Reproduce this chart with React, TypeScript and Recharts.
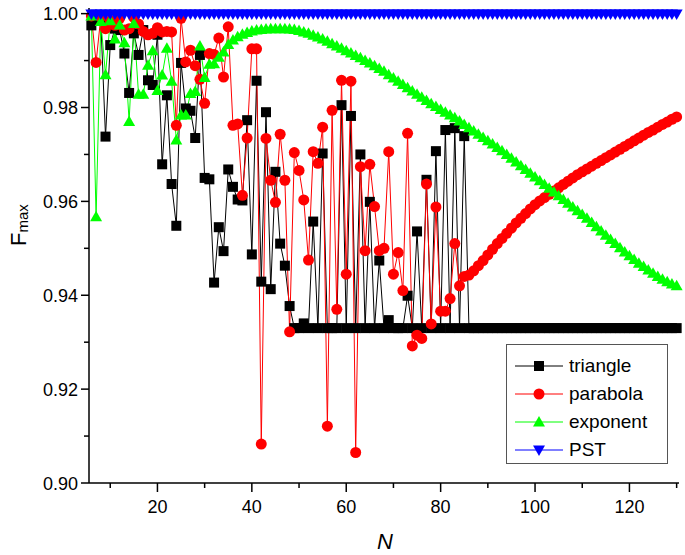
import { LineChart, Line, XAxis, YAxis, Legend } from "recharts";

const FONT = "'Liberation Sans', Arial, sans-serif";

const N = [
  6, 7, 8, 9, 10, 11, 12, 13, 14, 15, 16, 17, 18, 19, 20, 21, 22, 23, 24, 25,
  26, 27, 28, 29, 30, 31, 32, 33, 34, 35, 36, 37, 38, 39, 40, 41, 42, 43, 44, 45,
  46, 47, 48, 49, 50, 51, 52, 53, 54, 55, 56, 57, 58, 59, 60, 61, 62, 63, 64, 65,
  66, 67, 68, 69, 70, 71, 72, 73, 74, 75, 76, 77, 78, 79, 80, 81, 82, 83, 84, 85,
  86, 87, 88, 89, 90, 91, 92, 93, 94, 95, 96, 97, 98, 99, 100, 101, 102, 103, 104, 105,
  106, 107, 108, 109, 110, 111, 112, 113, 114, 115, 116, 117, 118, 119, 120, 121, 122, 123, 124, 125,
  126, 127, 128, 129, 130,
];

const TRIANGLE = [
  0.9975, 0.999, 0.9985, 0.9738, 0.9933, 0.9968, 0.9965, 0.9915, 0.9831, 0.9958,
  0.9912, 0.9965, 0.9858, 0.9848, 0.9955, 0.9679, 0.9826, 0.9637, 0.9548, 0.9895,
  0.9798, 0.9793, 0.9735, 0.9912, 0.965, 0.9647, 0.9427, 0.9545, 0.9494, 0.9668,
  0.9631, 0.9604, 0.9602, 0.9773, 0.9487, 0.9857, 0.9429, 0.979, 0.9413, 0.9663,
  0.951, 0.9463, 0.9377, 0.933, 0.933, 0.934, 0.933, 0.9557, 0.933, 0.9702,
  0.933, 0.933, 0.933, 0.9805, 0.933, 0.9782, 0.933, 0.97, 0.933, 0.9599,
  0.933, 0.9474, 0.933, 0.9347, 0.933, 0.933, 0.933, 0.9399, 0.933, 0.9536,
  0.933, 0.9646, 0.933, 0.9707, 0.933, 0.9752, 0.933, 0.9756, 0.933, 0.9739,
  0.933, 0.933, 0.933, 0.933, 0.933, 0.933, 0.933, 0.933, 0.933, 0.933,
  0.933, 0.933, 0.933, 0.933, 0.933, 0.933, 0.933, 0.933, 0.933, 0.933,
  0.933, 0.933, 0.933, 0.933, 0.933, 0.933, 0.933, 0.933, 0.933, 0.933,
  0.933, 0.933, 0.933, 0.933, 0.933, 0.933, 0.933, 0.933, 0.933, 0.933,
  0.933, 0.933, 0.933, 0.933, 0.933,
];

const PARABOLA = [
  0.9995, 0.9896, 0.9993, 0.9968, 0.9985, 0.9975, 0.999, 0.9965, 0.9968, 0.9992,
  0.9978, 0.9962, 0.9955, 0.9958, 0.997, 0.9961, 0.9962, 0.9961, 0.9762, 0.999,
  0.9897, 0.9922, 0.9889, 0.986, 0.9809, 0.9915, 0.9913, 0.9948, 0.9865, 0.9972,
  0.9762, 0.9765, 0.9613, 0.9735, 0.9925, 0.9925, 0.9083, 0.9734, 0.9645, 0.9598,
  0.9743, 0.9645, 0.9322, 0.9704, 0.9666, 0.9603, 0.9475, 0.9706, 0.9681, 0.9758,
  0.9121, 0.9794, 0.937, 0.9858, 0.9445, 0.9856, 0.9065, 0.9674, 0.9495, 0.9679,
  0.9589, 0.9495, 0.95, 0.9706, 0.9445, 0.9491, 0.941, 0.9745, 0.9292, 0.9315,
  0.9308, 0.9637, 0.9339, 0.9588, 0.9366, 0.9366, 0.9393, 0.951, 0.942, 0.944,
  0.9443, 0.9452, 0.9463, 0.9474, 0.9486, 0.9498, 0.951, 0.9521, 0.9532, 0.9543,
  0.9554, 0.9564, 0.9574, 0.9584, 0.9593, 0.9601, 0.9608, 0.9615, 0.9622, 0.9629,
  0.9636, 0.9643, 0.965, 0.9657, 0.9663, 0.9669, 0.9675, 0.9681, 0.9687, 0.9693,
  0.9699, 0.9705, 0.9711, 0.9717, 0.9723, 0.9729, 0.9735, 0.9741, 0.9747, 0.9752,
  0.9758, 0.9764, 0.9769, 0.9775, 0.978,
];

const EXPONENT = [
  0.9995, 0.9567, 0.9983, 0.987, 0.9985, 0.9946, 0.9976, 0.9938, 0.977, 0.9979,
  0.9828, 0.9828, 0.989, 0.9921, 0.9836, 0.9869, 0.9926, 0.9856, 0.9731, 0.9784,
  0.9784, 0.983, 0.9834, 0.9931, 0.9864, 0.9892, 0.9893, 0.9907, 0.9918, 0.9934,
  0.9944, 0.9951, 0.9956, 0.996, 0.9963, 0.9965, 0.9966, 0.9967, 0.9968, 0.9968,
  0.9968, 0.9968, 0.9967, 0.9966, 0.9964, 0.9961, 0.9958, 0.9954, 0.995, 0.9946,
  0.9941, 0.9936, 0.9931, 0.9926, 0.9921, 0.9916, 0.9911, 0.9906, 0.99, 0.9895,
  0.9889, 0.9883, 0.9877, 0.987, 0.9863, 0.9856, 0.9849, 0.9842, 0.9835, 0.9828,
  0.9822, 0.9815, 0.9808, 0.9802, 0.9796, 0.979, 0.9784, 0.9778, 0.9771, 0.9764,
  0.9757, 0.975, 0.9743, 0.9736, 0.9729, 0.9722, 0.9715, 0.9708, 0.97, 0.9692,
  0.9684, 0.9676, 0.9668, 0.966, 0.9652, 0.9644, 0.9636, 0.9628, 0.962, 0.9612,
  0.9604, 0.9596, 0.9588, 0.958, 0.9572, 0.9564, 0.9555, 0.9546, 0.9537, 0.9528,
  0.9519, 0.951, 0.9501, 0.9492, 0.9484, 0.9476, 0.9468, 0.9461, 0.9454, 0.9447,
  0.944, 0.9434, 0.9429, 0.9424, 0.942,
];

const PST = [
  0.9999, 0.9999, 0.9999, 0.9999, 0.9999, 0.9999, 0.9999, 0.9999, 0.9999, 0.9999,
  0.9999, 0.9999, 0.9999, 0.9999, 0.9999, 0.9999, 0.9999, 0.9999, 0.9999, 0.9999,
  0.9999, 0.9999, 0.9999, 0.9999, 0.9999, 0.9999, 0.9999, 0.9999, 0.9999, 0.9999,
  0.9999, 0.9999, 0.9999, 0.9999, 0.9999, 0.9999, 0.9999, 0.9999, 0.9999, 0.9999,
  0.9999, 0.9999, 0.9999, 0.9999, 0.9999, 0.9999, 0.9999, 0.9999, 0.9999, 0.9999,
  0.9999, 0.9999, 0.9999, 0.9999, 0.9999, 0.9999, 0.9999, 0.9999, 0.9999, 0.9999,
  0.9999, 0.9999, 0.9999, 0.9999, 0.9999, 0.9999, 0.9999, 0.9999, 0.9999, 0.9999,
  0.9999, 0.9999, 0.9999, 0.9999, 0.9999, 0.9999, 0.9999, 0.9999, 0.9999, 0.9999,
  0.9999, 0.9999, 0.9999, 0.9999, 0.9999, 0.9999, 0.9999, 0.9999, 0.9999, 0.9999,
  0.9999, 0.9999, 0.9999, 0.9999, 0.9999, 0.9999, 0.9999, 0.9999, 0.9999, 0.9999,
  0.9999, 0.9999, 0.9999, 0.9999, 0.9999, 0.9999, 0.9999, 0.9999, 0.9999, 0.9999,
  0.9999, 0.9999, 0.9999, 0.9999, 0.9999, 0.9999, 0.9999, 0.9999, 0.9999, 0.9999,
  0.9999, 0.9999, 0.9999, 0.9999, 0.9999,
];

const X_TICKS = [10, 20, 30, 40, 50, 60, 70, 80, 90, 100, 110, 120, 130];
const Y_TICKS = [0.9, 0.91, 0.92, 0.93, 0.94, 0.95, 0.96, 0.97, 0.98, 0.99, 1.0];

const data = N.map((n, i) => ({
  n,
  triangle: TRIANGLE[i],
  parabola: PARABOLA[i],
  exponent: EXPONENT[i],
  pst: PST[i],
}));

// marker shapes
function marker(kind: string, cx: number, cy: number, key?: string) {
  if (kind === "square") return <rect key={key} x={cx - 5} y={cy - 5} width={10} height={10} fill="#000" />;
  if (kind === "circle") return <circle key={key} cx={cx} cy={cy} r={5.5} fill="#ff0000" />;
  if (kind === "up")
    return <polygon key={key} points={`${cx},${cy - 6} ${cx + 6},${cy + 4.5} ${cx - 6},${cy + 4.5}`} fill="#00ff00" />;
  return <polygon key={key} points={`${cx},${cy + 6} ${cx + 6},${cy - 4.5} ${cx - 6},${cy - 4.5}`} fill="#0000ff" />;
}

const dotFor = (kind: string) => (p: any) =>
  p.cx == null || p.cy == null ? <g key={`${kind}-${p.index}`} /> : marker(kind, p.cx, p.cy, `${kind}-${p.index}`);

const SERIES = [
  { key: "triangle", name: "triangle", color: "#000000", kind: "square" },
  { key: "parabola", name: "parabola", color: "#ff0000", kind: "circle" },
  { key: "exponent", name: "exponent", color: "#00ff00", kind: "up" },
  { key: "pst", name: "PST", color: "#0000ff", kind: "down" },
];

function XTick({ x, y, payload }: any) {
  const major = payload.value % 20 === 0;
  return (
    <g>
      <line x1={x} y1={y} x2={x} y2={y + (major ? 9 : 5)} stroke="#000" strokeWidth={1.5} />
      {major && (
        <text x={x} y={y + 30} textAnchor="middle" fontSize={18} fontFamily={FONT} fill="#000">
          {payload.value}
        </text>
      )}
    </g>
  );
}

function YTick({ x, y, payload }: any) {
  const major = Math.round(payload.value * 100) % 2 === 0;
  return (
    <g>
      <line x1={x - (major ? 8 : 5)} y1={y} x2={x} y2={y} stroke="#000" strokeWidth={1.5} />
      {major && (
        <text x={x - 11} y={y + 6.5} textAnchor="end" fontSize={18} fontFamily={FONT} fill="#000">
          {payload.value.toFixed(2)}
        </text>
      )}
    </g>
  );
}

function LegendBox() {
  return (
    <div
      style={{
        border: "1px solid #555",
        width: 162,
        height: 120,
        background: "#fff",
        paddingTop: 7,
        boxSizing: "border-box",
        fontFamily: FONT,
      }}
    >
      {SERIES.map((s) => (
        <div key={s.key} style={{ display: "flex", alignItems: "center", height: 28 }}>
          <svg width={48} height={20} style={{ marginLeft: 8, display: "block" }}>
            <line x1={0} y1={10} x2={48} y2={10} stroke={s.color} strokeWidth={1} />
            {marker(s.kind, 24, 10)}
          </svg>
          <span style={{ marginLeft: 6, fontSize: 19, color: "#000" }}>{s.name}</span>
        </div>
      ))}
    </div>
  );
}

export default function App() {
  return (
    <div style={{ position: "absolute", left: 0, top: 0, width: 685, height: 555, background: "#fff" }}>
      <LineChart width={685} height={555} data={data} margin={{ top: 8, right: 6, left: 0, bottom: 0 }}>
        <XAxis
          dataKey="n"
          type="number"
          domain={[5.5, 130.5]}
          ticks={X_TICKS}
          interval={0}
          height={72}
          tickSize={0}
          tickMargin={0}
          tickLine={false}
          axisLine={{ stroke: "#000", strokeWidth: 1.5 }}
          tick={<XTick />}
        />
        <YAxis
          type="number"
          domain={[0.9, 1.0012]}
          ticks={Y_TICKS}
          interval={0}
          width={89}
          tickSize={0}
          tickMargin={0}
          tickLine={false}
          axisLine={{ stroke: "#000", strokeWidth: 1.5 }}
          tick={<YTick />}
        />
        {SERIES.map((s) => (
          <Line
            key={s.key}
            dataKey={s.key}
            name={s.name}
            type="linear"
            stroke={s.color}
            strokeWidth={1}
            dot={dotFor(s.kind)}
            activeDot={false}
            isAnimationActive={false}
          />
        ))}
        <Legend
          content={<LegendBox />}
          wrapperStyle={{ position: "absolute", left: 506, top: 344, width: 162, height: 0, overflow: "visible" }}
        />
        <text x={26} y={246} transform="rotate(-90 26 246)" fontFamily={FONT} fill="#000">
          <tspan fontSize={22}>F</tspan>
          <tspan fontSize={15} dy={2}>max</tspan>
        </text>
        <text x={385} y={549} textAnchor="middle" fontSize={22} fontStyle="italic" fontFamily={FONT} fill="#000">
          N
        </text>
      </LineChart>
    </div>
  );
}
